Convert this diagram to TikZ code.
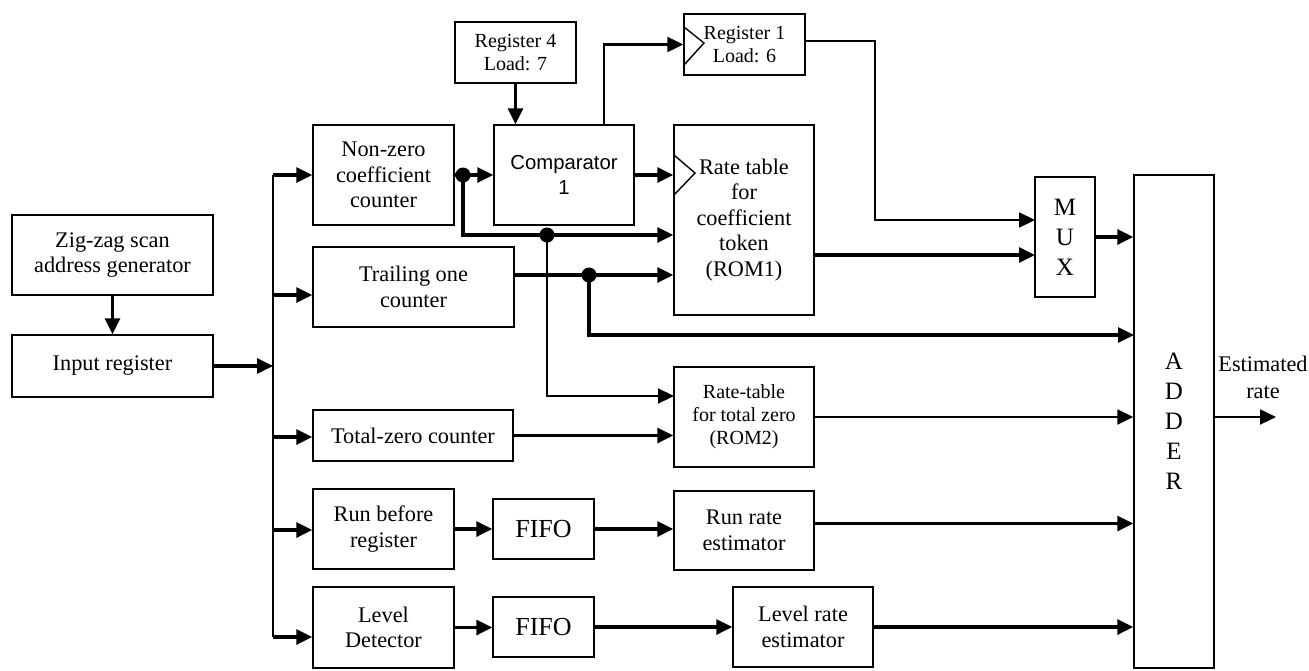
\documentclass[tikz,border=0pt]{standalone}
\usepackage{fontspec}
\setmainfont{Liberation Serif}
\setsansfont{Liberation Sans}
\usetikzlibrary{arrows.meta,calc}
\begin{document}
\begin{tikzpicture}[x=1pt,y=-1pt,
  box/.style={draw, line width=1.4pt, inner sep=0pt, align=center, font=\fontsize{22.3}{25.5}\selectfont},
  sbox/.style={box, font=\fontsize{20}{23}\selectfont},
  bigbox/.style={box, font=\fontsize{26}{30}\selectfont},
  vbox/.style={box, font=\fontsize{25}{30}\selectfont},
  sfbox/.style={box, font=\sffamily\fontsize{20.3}{25.5}\selectfont},
  tip/.style={-{Triangle[length=16pt,width=15pt]}},
  conn/.style={line width=3.2pt, tip},
  mconn/.style={line width=2.2pt, tip},
  wire/.style={line width=3.2pt},
  dot/.style={circle, fill, inner sep=0pt, minimum size=15pt},
  ]
\useasboundingbox (0,0) rectangle (1309,670);

% boxes
\node[box, minimum width=201pt, minimum height=80pt] (zz) at (112.5,255) {Zig-zag scan\\address generator};
\node[box, minimum width=201pt, minimum height=62pt] (inreg) at (112.5,366) {Input register};
\node[box, minimum width=141pt, minimum height=100pt] (nz) at (383.5,175) {Non-zero\\coefficient\\counter};
\node[sfbox, minimum width=140pt, minimum height=100pt] (comp) at (564,175) {Comparator\\1};
\node[sbox, minimum width=121pt, minimum height=61pt] (reg4) at (515.5,52.5) {Register 4\\Load: 7};
\node[sbox, minimum width=121pt, minimum height=61pt] (reg1) at (744.5,44.5) {Register 1\\Load: 6};
\node[box, minimum width=140pt, minimum height=190pt] (rom1) at (744,220) {Rate table\\for\\coefficient\\token\\(ROM1)};
\node[box, minimum width=201pt, minimum height=80pt] (tone) at (413.5,287) {Trailing one\\counter};
\node[vbox, minimum width=60pt, minimum height=120pt] (mux) at (1065,237) {M\\U\\X};
\node[vbox, minimum width=80pt, minimum height=493pt] (adder) at (1174,421.5) {A\\D\\D\\E\\R};
\node[box, minimum width=200pt, minimum height=51pt] (tz) at (413,435.5) {Total-zero counter};
\node[sbox, minimum width=140pt, minimum height=100pt] (rom2) at (744,417) {Rate-table\\for total zero\\(ROM2)};
\node[box, minimum width=141pt, minimum height=80pt] (run) at (383.5,529) {Run before\\register};
\node[bigbox, minimum width=101pt, minimum height=60pt] (fifo1) at (543.5,529) {FIFO};
\node[box, minimum width=140pt, minimum height=79pt] (runrate) at (744,530.5) {Run rate\\estimator};
\node[box, minimum width=141pt, minimum height=81pt] (lvl) at (383.5,627.5) {Level\\Detector};
\node[bigbox, minimum width=101pt, minimum height=60pt] (fifo2) at (543.5,627) {FIFO};
\node[box, minimum width=140pt, minimum height=80pt] (lvlrate) at (803,627) {Level rate\\estimator};
\node[align=center, font=\fontsize{22.3}{27}\selectfont] (est) at (1263,377) {Estimated\\rate};

% clock triangles
\draw[line width=1.4pt] (684,27) -- (704,43) -- (684,65);
\draw[line width=1.4pt] (674,155) -- (695,173) -- (674,195);

% coordinates
\coordinate (bt) at (273,175);
\coordinate (bb) at (273,637);
\coordinate (b2) at (273,295);
\coordinate (b3) at (273,437);
\coordinate (b4) at (273,530);
\node[dot] (d1) at (463,175) {};
\node[dot] (d2) at (547,235) {};
\node[dot] (d3) at (589,275) {};
\coordinate (r2in) at (674,396);
\coordinate (a2) at (1134,335);
\coordinate (m1) at (1035,220);
\coordinate (m2) at (1035,255);
\coordinate (out) at (1276,417);

% connectors
\draw[conn] (zz.south) -- (inreg.north);
\draw[conn] (inreg.east) -- (inreg.east -| bt);
\draw[line width=2.2pt] (bt) -- (bb);
\draw[conn] (bt) -- (nz.west);
\draw[conn] (b2) -- (b2 -| tone.west);
\draw[conn] (b3) -- (b3 -| tz.west);
\draw[conn] (b4) -- (b4 -| run.west);
\draw[conn] (bb) -- (bb -| lvl.west);

\draw[wire] (nz.east) -- (d1.center);
\draw[conn] (d1.center) -- (comp.west);
\draw[wire] (d1.center) |- (d2.center);
\draw[conn] (d2.center) -- (d2 -| rom1.west);
\draw[mconn] (d2.center) |- (r2in);
\draw[conn] (reg4.south) -- (reg4.south |- comp.north);
\draw[mconn] ([xshift=40pt]comp.north) |- (reg1.west);
\draw[conn] (comp.east) -- (comp.east -| rom1.west);

\draw[conn] ([yshift=12pt]tone.east) -- (d3 -| rom1.west);
\draw[conn] (d3.center) |- (a2);

\draw[mconn] ([yshift=3.5pt]reg1.east) -| (875,220) -- (m1);
\draw[conn] ([yshift=-35pt]rom1.east) -- (m2);
\draw[conn] (mux.east) -- (mux.east -| adder.west);

\draw[conn] (tz.east) -- (tz.east -| rom2.west);
\draw[mconn] (rom2.east) -- (rom2.east -| adder.west);

\draw[conn] (run.east) -- (fifo1.west);
\draw[conn] (fifo1.east) -- (fifo1.east -| runrate.west);
\draw[conn] ([yshift=7pt]runrate.east) -- ([yshift=7pt]runrate.east -| adder.west);

\draw[conn] (lvl.east) -- (lvl.east -| fifo2.west);
\draw[conn] (fifo2.east) -- (fifo2.east -| lvlrate.west);
\draw[conn] (lvlrate.east) -- (lvlrate.east -| adder.west);

\draw[mconn] (adder.east |- out) -- (out);
\end{tikzpicture}
\end{document}
